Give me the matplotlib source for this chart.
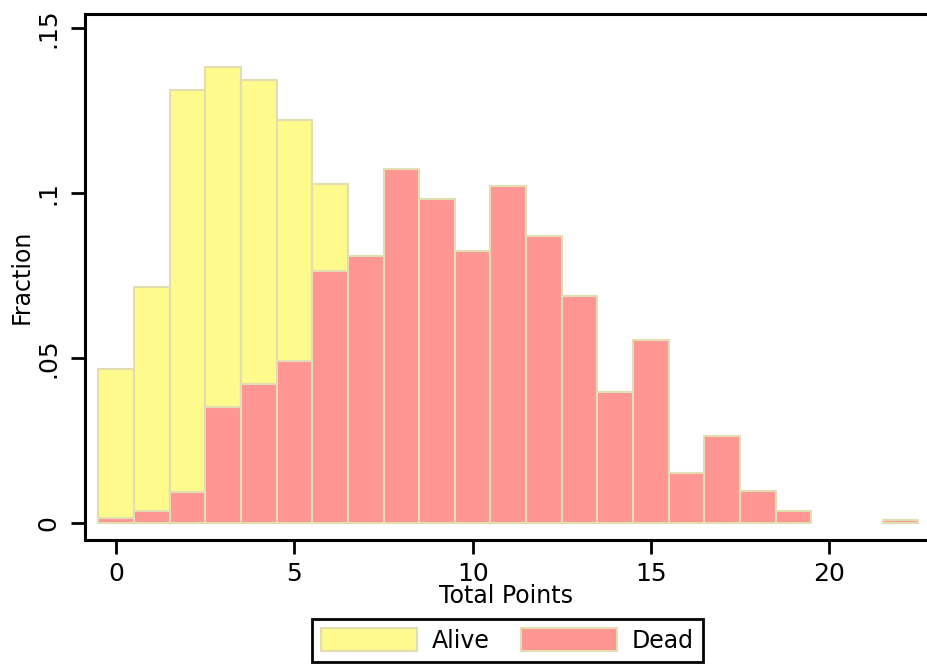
import numpy as np
import matplotlib
matplotlib.use('Agg')
import matplotlib.pyplot as plt

# histogram of total points, fraction per bin, by outcome
points = np.arange(0, 23)
alive = [0.0465, 0.0714, 0.1312, 0.1381, 0.1343, 0.1222, 0.1027,
         0.070, 0.060, 0.045, 0.030, 0.020, 0.012, 0.008, 0.004, 0.003,
         0, 0, 0, 0, 0, 0, 0]
dead = [0.0016, 0.0036, 0.0095, 0.0351, 0.0420, 0.0492, 0.0762,
        0.0809, 0.1072, 0.0981, 0.0824, 0.1021, 0.0870, 0.0689, 0.0397,
        0.0553, 0.0151, 0.0262, 0.0097, 0.0036, 0, 0, 0.0008]
yticks = [0, 0.05, 0.1, 0.15]
yticklabels = ['0', '.05', '.1', '.15']
xticks = [0, 5, 10, 15, 20]

yellow = '#fffa8c'
red = '#ff9693'
edge = '#e2deb2'

plt.rcParams['font.family'] = ['DejaVu Sans']

fig = plt.figure(figsize=(9.27, 6.66), dpi=100)
ax = fig.add_axes([0.0917, 0.1892, 0.9083, 0.7905])

# empty bins are skipped so no edge is drawn along the baseline
alive = np.array(alive)
dead = np.array(dead)
ka = alive > 0
kd = dead > 0
b1 = ax.bar(points[ka], alive[ka], width=1, color=yellow, edgecolor=edge, linewidth=1.5, label='Alive')
b2 = ax.bar(points[kd], dead[kd], width=1, color=red, edgecolor=edge, linewidth=1.5, label='Dead')

ax.set_xlim(-0.87, 22.74)
ax.set_ylim(-0.0052, 0.1544)
ax.set_xticks(xticks)
ax.set_yticks(yticks)
ax.set_yticklabels(yticklabels, rotation=90, va='center')
ax.tick_params(axis='both', length=10, width=2, labelsize=18, color='black')
ax.tick_params(axis='y', pad=8)
ax.tick_params(axis='x', pad=6)

for s in ['left', 'top', 'bottom']:
    ax.spines[s].set_linewidth(2.2)
ax.spines['right'].set_visible(False)

ax.set_xlabel('Total Points', fontsize=17, labelpad=-1.5)
ax.set_ylabel('Fraction', fontsize=17, labelpad=2)

leg = fig.legend(handles=[b1, b2], loc='upper center', ncol=2,
                 bbox_to_anchor=(507.5 / 927, 1 - 619 / 666),
                 fontsize=17, handlelength=4.07, handleheight=1.1,
                 handletextpad=0.6, columnspacing=1.35, borderpad=0.4,
                 borderaxespad=0, fancybox=False, edgecolor='black',
                 framealpha=1)
leg.get_frame().set_linewidth(2)

fig.savefig('out.png', dpi=100)
